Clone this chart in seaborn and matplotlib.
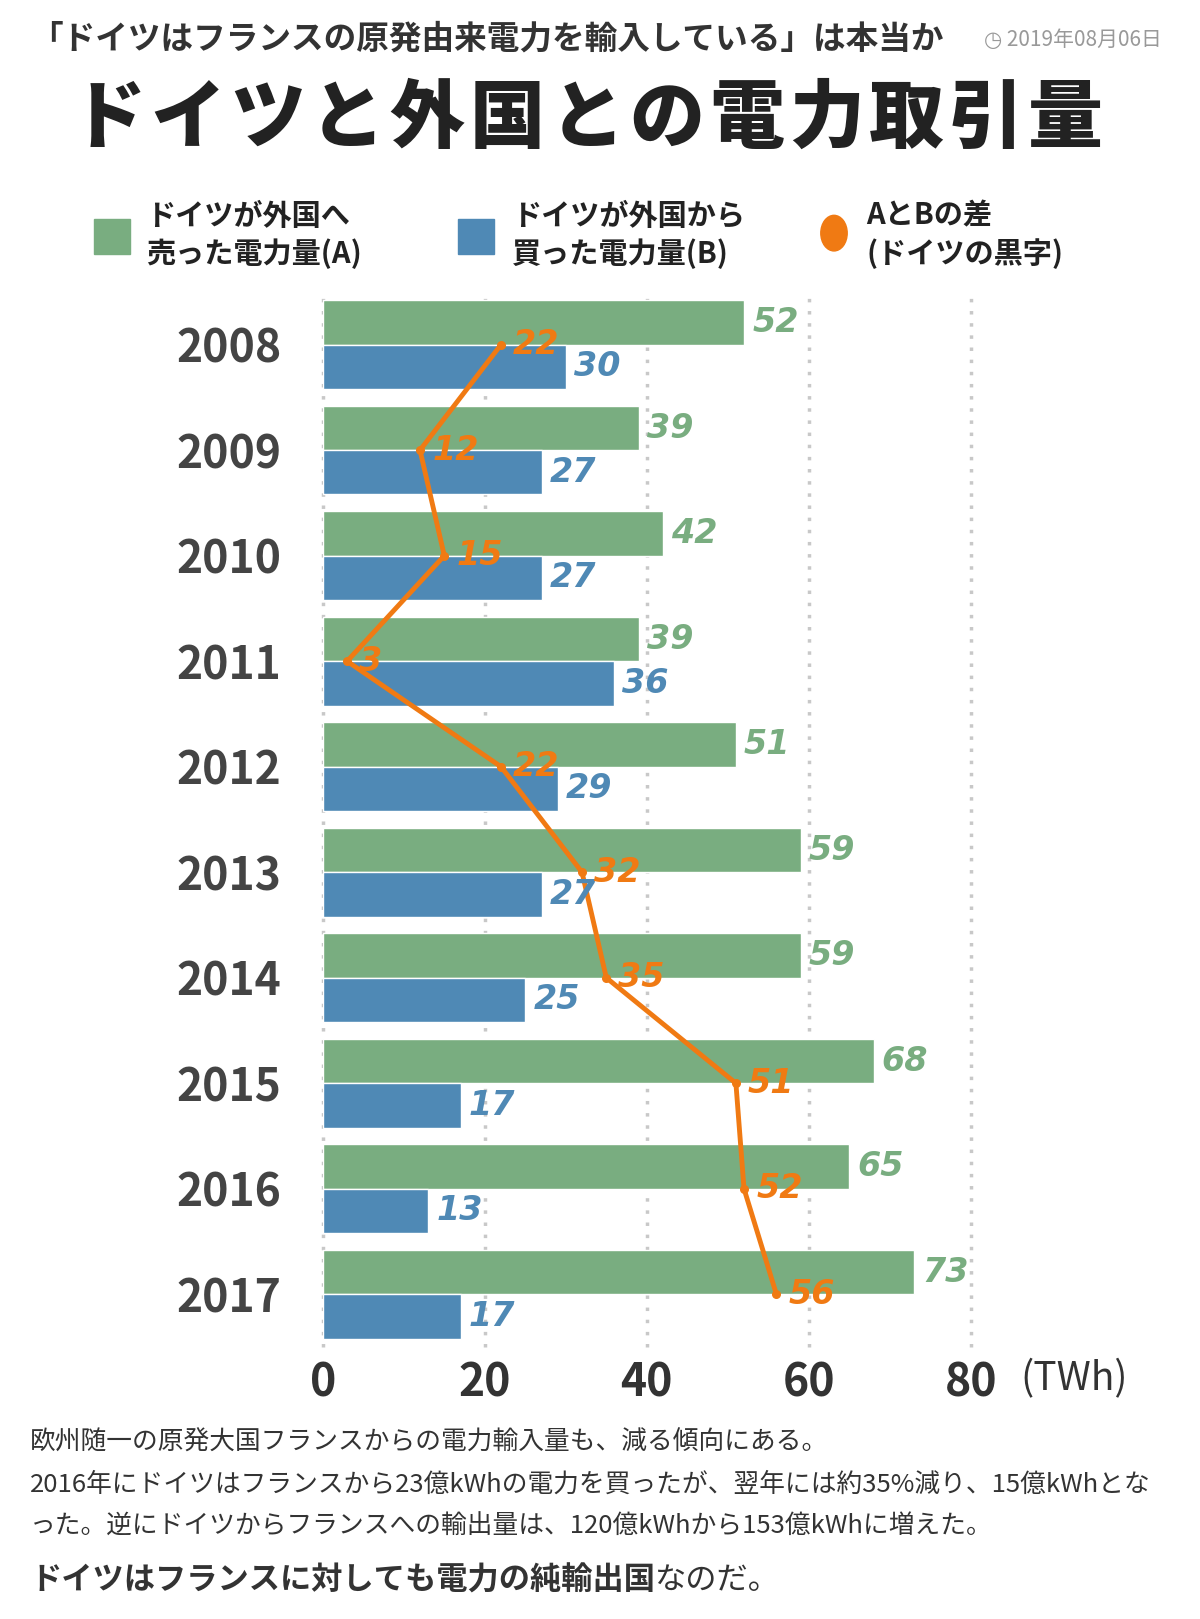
import numpy as np
import pandas as pd
import seaborn as sns
from matplotlib import pyplot as plt
from matplotlib.patches import Rectangle, Circle

years = ["2008", "2009", "2010", "2011", "2012", "2013", "2014", "2015", "2016", "2017"]
sold = [52, 39, 42, 39, 51, 59, 59, 68, 65, 73]
bought = [30, 27, 27, 36, 29, 27, 25, 17, 13, 17]
diff = [22, 12, 15, 3, 22, 32, 35, 51, 52, 56]
xticks = [0, 20, 40, 60, 80]

GREEN = "#79ad80"
BLUE = "#4f89b5"
ORANGE = "#f07a13"

sns.set_style("white")
plt.rcParams['font.family'] = ['Noto Sans CJK JP', 'DejaVu Sans']

fig = plt.figure(figsize=(12, 16.19), dpi=100)
ax = fig.add_axes([0.269, 0.168, 0.54, 0.653])

df = pd.DataFrame({"year": years, "A": sold, "B": bought})
pos = np.arange(len(years))
h = 0.42
ax.barh(pos - h / 2, df["A"], height=h, color=GREEN)
ax.barh(pos + h / 2, df["B"], height=h, color=BLUE)
sns.lineplot(x=diff, y=pos, ax=ax, color=ORANGE, lw=3.5, sort=False, estimator=None)
ax.scatter(diff, pos, color=ORANGE, s=30, zorder=5)

for p, a, b, d in zip(pos, sold, bought, diff):
    ax.text(a + 1, p - h / 2, str(a), color=GREEN, fontsize=24, style='italic', weight='bold',
            va='center', family='DejaVu Sans')
    ax.text(b + 1, p + h / 2, str(b), color=BLUE, fontsize=24, style='italic', weight='bold',
            va='center', family='DejaVu Sans')
    ax.text(d + 1.5, p, str(d), color=ORANGE, fontsize=24, style='italic', weight='bold',
            va='center', family='DejaVu Sans')

ax.set_xlim(0, 80)
ax.set_ylim(len(years) - 0.5, -0.52)
for x in xticks:
    ax.axvline(x, color="#c8c8c8", ls=(0, (1, 2.5)), lw=2.5, zorder=0, clip_on=False)
ax.set_xticks(xticks)
ax.set_xticklabels([str(x) for x in xticks], fontsize=32, color="#333333", weight='bold')
ax.set_yticks(pos)
ax.set_yticklabels(years, fontsize=32, color="#444444", weight='bold')
ax.tick_params(length=0, pad=30, axis='y')
ax.tick_params(length=0, pad=10, axis='x')
for s in ax.spines.values():
    s.set_visible(False)
fig.text(0.85, 0.148, "(TWh)", fontsize=28, color="#333333", va='center')

# header
fig.text(0.025, 0.976, "「ドイツはフランスの原発由来電力を輸入している」は本当か", fontsize=23.5,
         weight='bold', color="#333333", va='center')
fig.text(0.82, 0.975, "◷ 2019年08月06日", fontsize=15, color="#999999", va='center')
title = "ドイツと外国との電力取引量"
for i, ch in enumerate(title):
    fig.text(0.09 + i * 0.0665, 0.926, ch, fontsize=54, weight='black', color="#222222",
             ha='center', va='center')

# legend
fig.patches.append(Rectangle((0.078, 0.843), 0.03, 0.022, color=GREEN, transform=fig.transFigure))
fig.text(0.122, 0.855, "ドイツが外国へ\n売った電力量(A)", fontsize=21, weight='bold', color="#222222",
         va='center', linespacing=1.3)
fig.patches.append(Rectangle((0.382, 0.843), 0.03, 0.022, color=BLUE, transform=fig.transFigure))
fig.text(0.427, 0.855, "ドイツが外国から\n買った電力量(B)", fontsize=21, weight='bold', color="#222222",
         va='center', linespacing=1.3)
fig.patches.append(Circle((0.695, 0.856), 0.011, color=ORANGE, transform=fig.transFigure))
fig.text(0.722, 0.855, "AとBの差\n(ドイツの黒字)", fontsize=21, weight='bold', color="#222222",
         va='center', linespacing=1.3)

# footer
fig.text(0.025, 0.109, "欧州随一の原発大国フランスからの電力輸入量も、減る傾向にある。", fontsize=18.5, color="#333333", va='center')
fig.text(0.025, 0.083, "2016年にドイツはフランスから23億kWhの電力を買ったが、翌年には約35%減り、15億kWhとな",
         fontsize=18.5, color="#333333", va='center')
fig.text(0.025, 0.057, "った。逆にドイツからフランスへの輸出量は、120億kWhから153億kWhに増えた。",
         fontsize=18.5, color="#333333", va='center')
fig.text(0.025, 0.024, "ドイツはフランスに対しても電力の純輸出国", fontsize=22.5, weight='bold', color="#333333", va='center')
fig.text(0.545, 0.024, "なのだ。", fontsize=22.5, color="#333333", va='center')

fig.savefig("out.png", dpi=100)
